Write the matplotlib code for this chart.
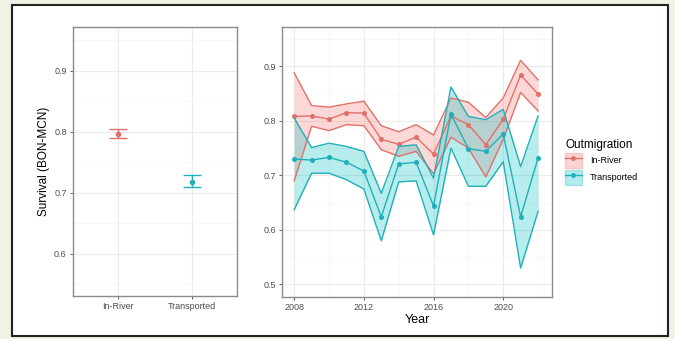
import numpy as np
import matplotlib
matplotlib.use("Agg")
import matplotlib.pyplot as plt
from matplotlib.patches import Patch, Rectangle
from matplotlib.lines import Line2D

plt.rcParams['font.family'] = ['Liberation Sans', 'DejaVu Sans']

# overall survival by group
groups = ["In-River", "Transported"]
overall_mean = [0.797, 0.718]
overall_lo = [0.790, 0.709]
overall_hi = [0.804, 0.730]

# yearly survival
years = np.arange(2008, 2023)
river_mean = [0.808, 0.809, 0.803, 0.815, 0.814, 0.766, 0.757, 0.770, 0.739,
              0.809, 0.793, 0.756, 0.803, 0.884, 0.849]
river_hi = [0.888, 0.828, 0.825, 0.831, 0.836, 0.791, 0.780, 0.793, 0.774,
            0.842, 0.834, 0.806, 0.842, 0.911, 0.875]
river_lo = [0.690, 0.790, 0.782, 0.793, 0.791, 0.747, 0.735, 0.744, 0.703,
            0.770, 0.750, 0.697, 0.766, 0.852, 0.818]
trans_mean = [0.730, 0.728, 0.733, 0.724, 0.708, 0.624, 0.721, 0.724, 0.644,
              0.812, 0.749, 0.744, 0.776, 0.624, 0.732]
trans_hi = [0.805, 0.751, 0.759, 0.753, 0.744, 0.667, 0.753, 0.756, 0.695,
            0.862, 0.808, 0.802, 0.821, 0.716, 0.809]
trans_lo = [0.637, 0.704, 0.704, 0.692, 0.675, 0.580, 0.688, 0.690, 0.591,
            0.750, 0.680, 0.680, 0.725, 0.530, 0.634]

red = "#F8766D"
teal = "#00BFC4"
red_line = "#e2706a"
teal_line = "#1fb0ba"
W, H = 675, 339


def px_axes(x0, y0, x1, y1):
    return fig.add_axes([x0 / W, (H - y1) / H, (x1 - x0) / W, (y1 - y0) / H])


def style(ax):
    ax.set_facecolor("white")
    for s in ax.spines.values():
        s.set_color("#8a8a8a")
        s.set_linewidth(1.0)
    ax.grid(True, which="major", color="#ebebeb", lw=0.8)
    ax.grid(True, which="minor", color="#f4f4f4", lw=0.5)
    ax.set_axisbelow(True)
    ax.tick_params(which="major", length=2.5, width=0.6, color="#444444",
                   labelsize=6.5, labelcolor="#4d4d4d", pad=2)
    ax.tick_params(which="minor", length=0)


fig = plt.figure(figsize=(W / 100, H / 100), dpi=100)
fig.patch.set_facecolor("#f2f2e4")
frame = Rectangle((12 / W, (H - 336) / H), 656 / W, 331 / H,
                  transform=fig.transFigure, facecolor="white",
                  edgecolor="#222222", lw=1.5, zorder=-10)
fig.add_artist(frame)

# left panel
ax1 = px_axes(73, 27, 237, 296)
style(ax1)
xpos = np.arange(1, len(groups) + 1)
for i, c in enumerate([red_line, teal_line]):
    ax1.errorbar(xpos[i], overall_mean[i],
                 yerr=[[overall_mean[i] - overall_lo[i]], [overall_hi[i] - overall_mean[i]]],
                 fmt="o", color=c, ms=3, capsize=6.5, elinewidth=1.0, capthick=1.0)
ax1.set_xlim(0.4, 2.6)
ax1.set_ylim(0.531, 0.972)
ax1.set_xticks(xpos)
ax1.set_xticklabels(groups)
ax1.set_yticks([0.6, 0.7, 0.8, 0.9])
ax1.set_yticks([0.55, 0.65, 0.75, 0.85, 0.95], minor=True)
ax1.xaxis.grid(False, which="minor")
ax1.set_ylabel("Survival (BON-MCN)", fontsize=8.5, labelpad=3)

# right panel
ax2 = px_axes(282, 27, 552, 297)
style(ax2)
for m, lo, hi, c, lc in [(river_mean, river_lo, river_hi, red, red_line),
                         (trans_mean, trans_lo, trans_hi, teal, teal_line)]:
    ax2.fill_between(years, lo, hi, color=c, alpha=0.28, lw=0)
    ax2.plot(years, hi, color=lc, lw=1.0)
    ax2.plot(years, lo, color=lc, lw=1.0)
    ax2.plot(years, m, color=lc, lw=1.0, marker="o", ms=2.6)
ax2.set_xlim(2007.3, 2022.8)
ax2.set_ylim(0.477, 0.972)
ax2.set_xticks([2008, 2012, 2016, 2020])
ax2.set_xticks([2010, 2014, 2018, 2022], minor=True)
ax2.set_yticks([0.5, 0.6, 0.7, 0.8, 0.9])
ax2.set_yticks([0.55, 0.65, 0.75, 0.85, 0.95], minor=True)
ax2.set_xlabel("Year", fontsize=9, labelpad=1)

handles = []
for c, lc in [(red, red_line), (teal, teal_line)]:
    handles.append((Patch(facecolor=c, alpha=0.3, edgecolor=lc),
                    Line2D([], [], color=lc, marker="o", ms=2.5, lw=1)))
leg = fig.legend(handles, groups, title="Outmigration",
                 loc="upper left", bbox_to_anchor=(559 / W, (H - 133) / H),
                 frameon=False, fontsize=6.5, title_fontsize=8.5,
                 handlelength=1.8, handleheight=2.3, labelspacing=0.15,
                 handletextpad=0.9, borderpad=0.2)
leg._legend_box.align = "left"

fig.savefig("out.png", dpi=100, facecolor=fig.get_facecolor())
